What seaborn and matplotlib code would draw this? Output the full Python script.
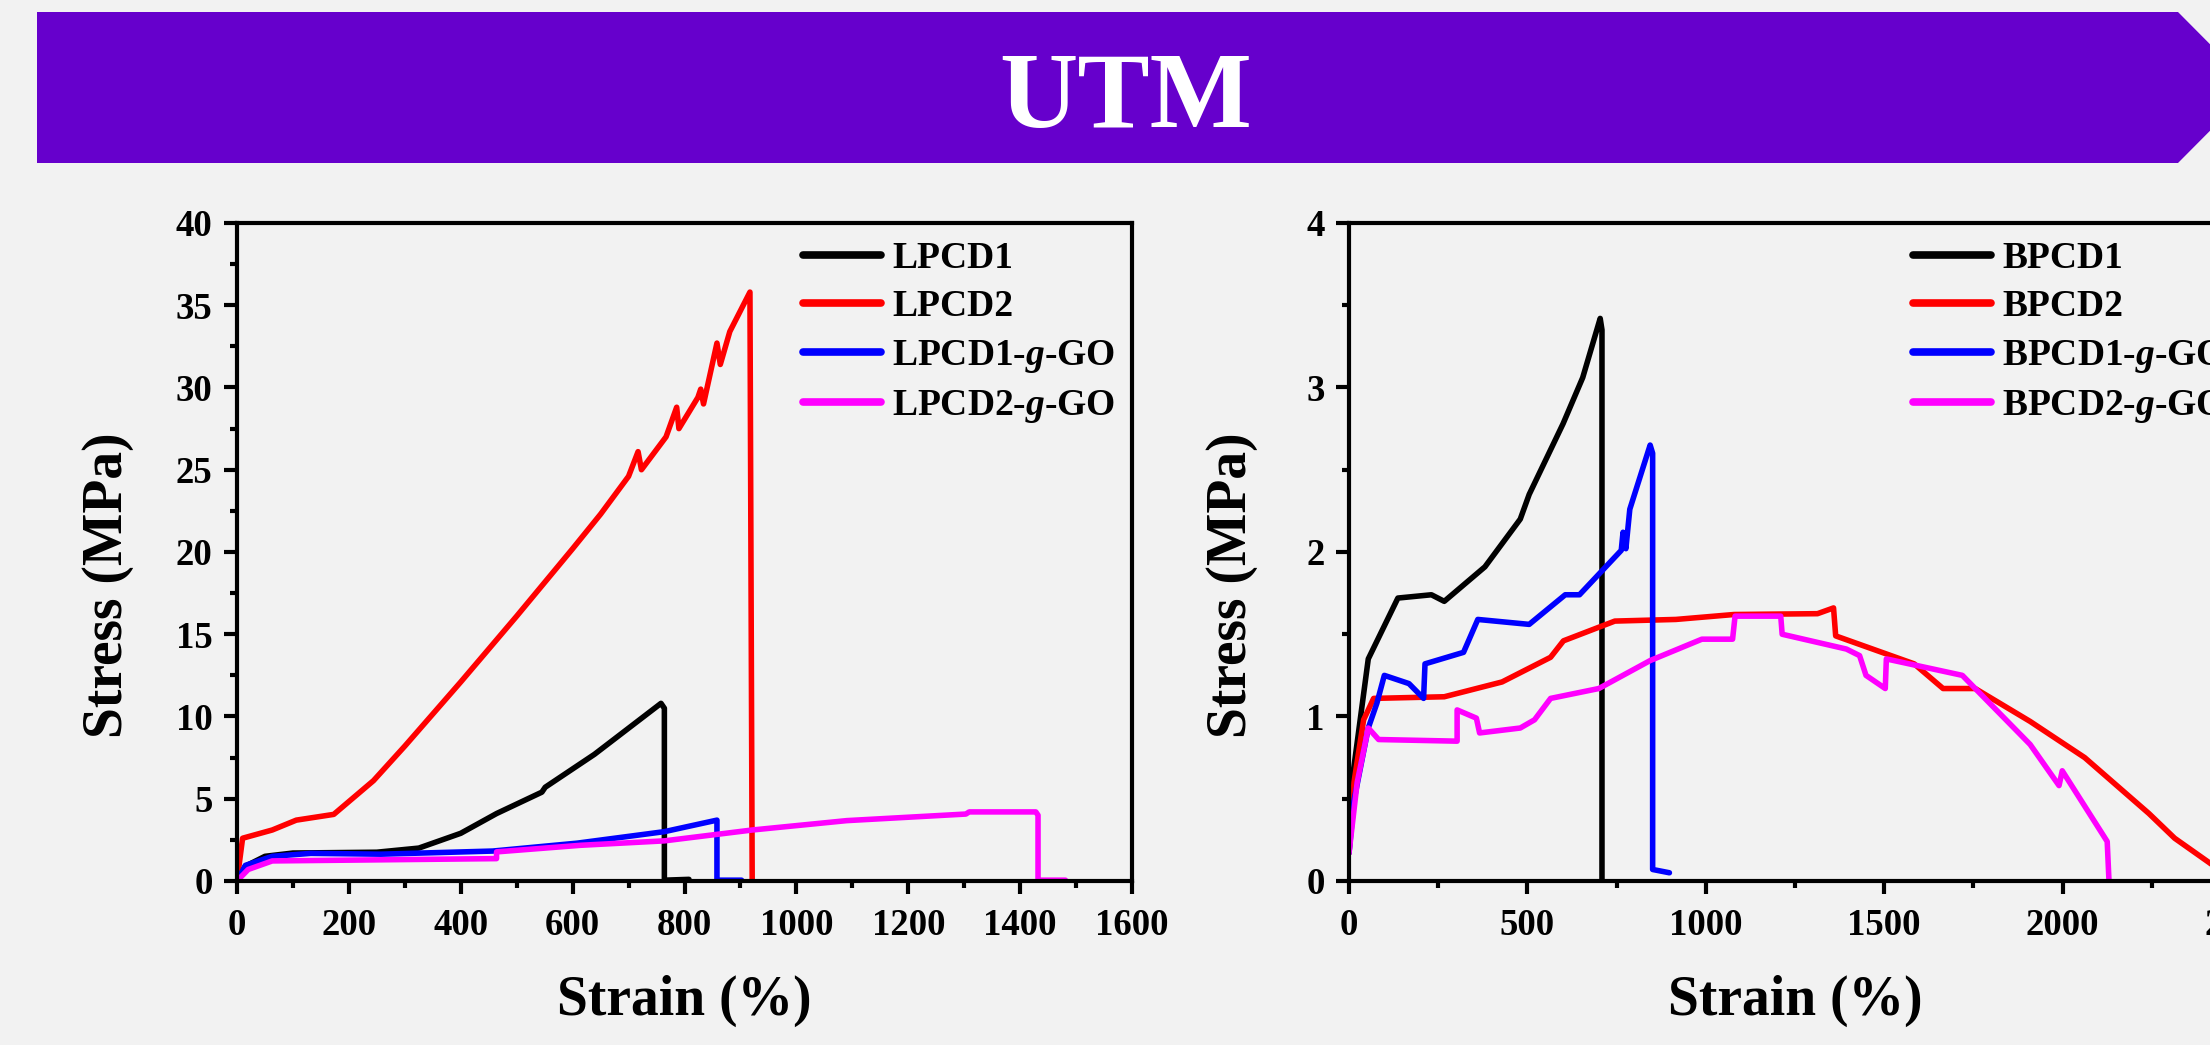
import matplotlib
matplotlib.use('Agg')
import matplotlib.pyplot as plt
from matplotlib.patches import Polygon
from matplotlib.ticker import MultipleLocator
import seaborn as sns
import pandas as pd

# ---- data ----
left_names = ['LPCD1', 'LPCD2', r'LPCD1-$\mathit{g}$-GO', r'LPCD2-$\mathit{g}$-GO']
right_names = ['BPCD1', 'BPCD2', r'BPCD1-$\mathit{g}$-GO', r'BPCD2-$\mathit{g}$-GO']
colors = ['#000000', '#FF0000', '#0000FF', '#FF00FF']

lpcd1_x = [0, 15, 50, 100, 250, 325, 400, 464, 545, 551, 639, 758, 764, 764, 808]
lpcd1_y = [0, 0.9, 1.5, 1.7, 1.75, 2.0, 2.9, 4.1, 5.4, 5.7, 7.7, 10.8, 10.5, 0.05, 0.1]

lpcd2_x = [0, 10, 63, 106, 173, 244, 300, 400, 500, 600, 650, 700, 717, 723, 767, 786, 790,
           824, 829, 834, 858, 864, 881, 917, 921]
lpcd2_y = [0, 2.6, 3.1, 3.7, 4.05, 6.1, 8.2, 12.1, 16.1, 20.2, 22.3, 24.6, 26.1, 25.0, 27.0, 28.8, 27.5,
           29.4, 29.9, 29.0, 32.7, 31.4, 33.4, 35.8, 0]

lpcd1go_x = [0, 15, 63, 132, 257, 457, 608, 764, 858, 858, 902]
lpcd1go_y = [0, 0.95, 1.5, 1.68, 1.63, 1.82, 2.3, 3.0, 3.7, 0.05, 0.05]

lpcd2go_x = [0, 20, 63, 464, 464, 614, 764, 921, 1090, 1303, 1309, 1428, 1432, 1432, 1481]
lpcd2go_y = [0, 0.7, 1.22, 1.36, 1.77, 2.17, 2.44, 3.1, 3.67, 4.07, 4.2, 4.2, 4.0, 0.05, 0.05]

bpcd1_x = [0, 5, 54, 137, 231, 267, 381, 480, 505, 600, 655, 704, 709, 709]
bpcd1_y = [0.2, 0.55, 1.35, 1.72, 1.74, 1.70, 1.91, 2.20, 2.35, 2.78, 3.06, 3.42, 3.35, 0]

bpcd2_x = [0, 14, 41, 69, 267, 429, 565, 601, 745, 916, 1079, 1313, 1358, 1364, 1584, 1665,
           1755, 1909, 2062, 2242, 2314, 2412, 2460]
bpcd2_y = [0.17, 0.6, 0.98, 1.11, 1.12, 1.21, 1.36, 1.46, 1.58, 1.59, 1.62, 1.625, 1.66, 1.49, 1.32, 1.17,
           1.17, 0.97, 0.75, 0.41, 0.26, 0.11, 0.03]

bpcd1go_x = [0, 14, 54, 78, 99, 168, 209, 213, 321, 361, 505, 606, 646, 763, 768, 776, 787, 844,
             851, 851, 898]
bpcd1go_y = [0.17, 0.49, 0.93, 1.08, 1.25, 1.20, 1.11, 1.32, 1.39, 1.59, 1.56, 1.74, 1.74, 2.01, 2.12,
             2.02, 2.26, 2.65, 2.6, 0.07, 0.05]

bpcd2go_x = [0, 23, 54, 83, 303, 303, 357, 366, 480, 520, 565, 700, 844, 989, 1075, 1082, 1210,
             1214, 1394, 1431, 1449, 1503, 1506, 1719, 1909, 1990, 1999, 2125, 2130]
bpcd2go_y = [0.17, 0.6, 0.93, 0.86, 0.85, 1.04, 0.99, 0.90, 0.93, 0.98, 1.11, 1.17, 1.34, 1.47, 1.47,
             1.61, 1.61, 1.50, 1.41, 1.37, 1.25, 1.17, 1.35, 1.25, 0.83, 0.58, 0.67, 0.24, 0]

left_x = [lpcd1_x, lpcd2_x, lpcd1go_x, lpcd2go_x]
left_y = [lpcd1_y, lpcd2_y, lpcd1go_y, lpcd2go_y]
right_x = [bpcd1_x, bpcd2_x, bpcd1go_x, bpcd2go_x]
right_y = [bpcd1_y, bpcd2_y, bpcd1go_y, bpcd2go_y]

# ---- style ----
bg = '#F2F2F2'
sns.set_style('ticks')
plt.rcParams['font.family'] = ['Liberation Serif', 'DejaVu Serif']
plt.rcParams['font.weight'] = 'bold'
plt.rcParams['text.color'] = 'black'
plt.rcParams['axes.labelcolor'] = 'black'
plt.rcParams['xtick.color'] = 'black'
plt.rcParams['ytick.color'] = 'black'
plt.rcParams['mathtext.fontset'] = 'custom'
plt.rcParams['mathtext.rm'] = 'Liberation Serif:bold'
plt.rcParams['mathtext.bf'] = 'Liberation Serif:bold'
plt.rcParams['mathtext.it'] = 'Liberation Serif:italic:bold'

fig = plt.figure(figsize=(22.1, 10.45), dpi=100, facecolor=bg)

# banner
banner = Polygon([(37 / 2210, 1 - 12 / 1045), (2178 / 2210, 1 - 12 / 1045), (2253 / 2210, 1 - 87.5 / 1045),
                  (2178 / 2210, 1 - 163 / 1045), (37 / 2210, 1 - 163 / 1045)],
                 closed=True, facecolor='#6600CC', edgecolor='none', transform=fig.transFigure)
fig.add_artist(banner)
fig.text(0.5095, 0.8785, 'UTM', ha='center', va='baseline', fontsize=78, color='white',
         fontweight='bold')

ax1 = fig.add_axes([0.10724, 0.15694, 0.40498, 0.62967])
ax2 = fig.add_axes([0.61041, 0.15694, 0.40362, 0.62967])


def panel(ax, names, xs, ys, xlim, ylim, xmaj, xmin, ymaj, ymin, ylab_x):
    for name, x, y, c in zip(names, xs, ys, colors):
        df = pd.DataFrame({'strain': x, 'stress': y})
        sns.lineplot(data=df, x='strain', y='stress', sort=False, estimator=None,
                     color=c, linewidth=4, label=name, ax=ax)
    ax.set_facecolor(bg)
    ax.set_xlim(*xlim)
    ax.set_ylim(*ylim)
    ax.xaxis.set_major_locator(MultipleLocator(xmaj))
    ax.xaxis.set_minor_locator(MultipleLocator(xmin))
    ax.yaxis.set_major_locator(MultipleLocator(ymaj))
    ax.yaxis.set_minor_locator(MultipleLocator(ymin))
    for sp in ax.spines.values():
        sp.set_linewidth(3)
        sp.set_color('black')
    ax.tick_params(which='major', direction='out', length=9.5, width=3, labelsize=26.5, colors='black')
    ax.tick_params(which='minor', direction='out', length=5, width=3, colors='black')
    ax.tick_params(axis='x', which='major', pad=10)
    ax.tick_params(axis='y', which='major', pad=8)
    ax.set_xlabel('Strain (%)', fontsize=40, fontweight='bold', color='black')
    ax.set_ylabel('Stress (MPa)', fontsize=40, fontweight='bold', color='black')
    ax.xaxis.set_label_coords(0.5, -0.143)
    ax.yaxis.set_label_coords(ylab_x, 0.45)
    leg = ax.legend(loc='upper left', bbox_to_anchor=(0.632, 0.973), frameon=False, fontsize=27,
                    handlelength=2.08, handletextpad=0.3, labelspacing=0.36, borderpad=0,
                    borderaxespad=0)
    for ln in leg.get_lines():
        ln.set_linewidth(5.5)
    for t in leg.get_texts():
        t.set_color('black')


panel(ax1, left_names, left_x, left_y, (0, 1600), (0, 40), 200, 100, 5, 2.5, -0.115)
panel(ax2, right_names, right_x, right_y, (0, 2500), (0, 4), 500, 250, 1, 0.5, -0.102)

fig.savefig('out.png', dpi=100, facecolor=bg)
